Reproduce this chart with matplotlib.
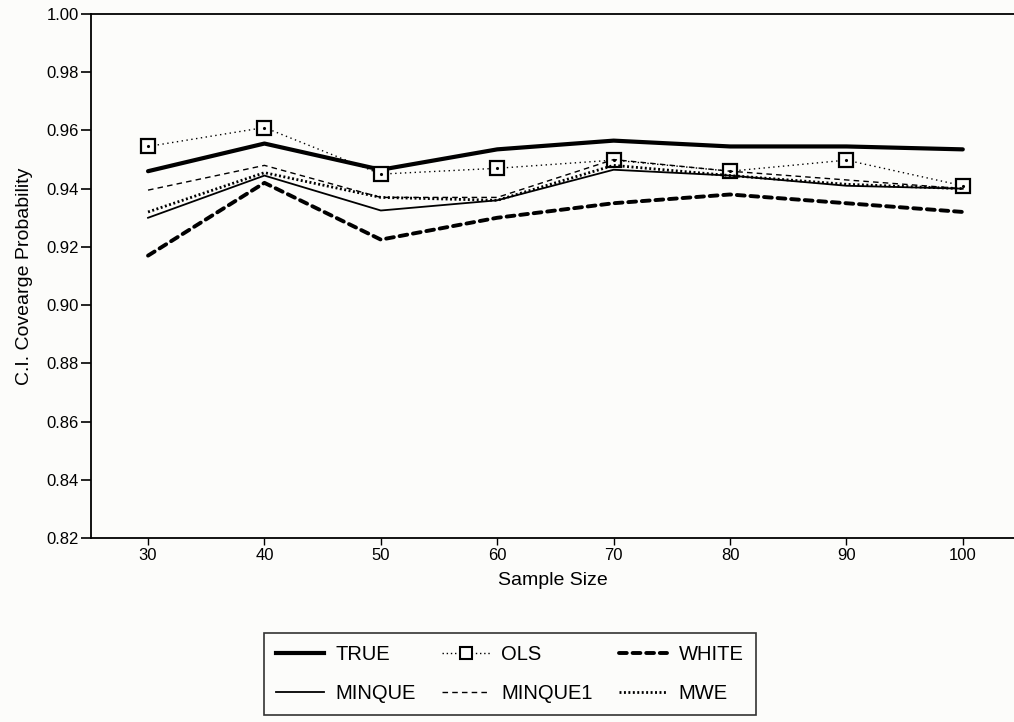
import matplotlib
matplotlib.use("Agg")
import matplotlib.pyplot as plt
from matplotlib.lines import Line2D

sample_size = [30, 40, 50, 60, 70, 80, 90, 100]
true_cov = [0.946, 0.9555, 0.9465, 0.9535, 0.9565, 0.9545, 0.9545, 0.9535]
ols_cov = [0.9545, 0.961, 0.945, 0.947, 0.9498, 0.946, 0.9498, 0.941]
white_cov = [0.917, 0.942, 0.9225, 0.930, 0.935, 0.938, 0.935, 0.932]
minque_cov = [0.930, 0.9445, 0.9325, 0.936, 0.9465, 0.9445, 0.941, 0.940]
minque1_cov = [0.9395, 0.948, 0.937, 0.937, 0.950, 0.946, 0.943, 0.940]
mwe_cov = [0.932, 0.9455, 0.937, 0.936, 0.948, 0.9445, 0.9415, 0.940]
y_ticks = [0.82, 0.84, 0.86, 0.88, 0.90, 0.92, 0.94, 0.96, 0.98, 1.00]

plt.rcParams['font.family'] = ['Liberation Sans', 'DejaVu Sans']
bg = '#fcfcfa'
fig = plt.figure(figsize=(10.14, 7.22), dpi=100, facecolor=bg)
ax = fig.add_axes([91/1014, 1-538/722, (1014-91)/1014, (538-14)/722], facecolor=bg)

k = 'black'
white_ls = (0, (2.0, 1.5))
mwe_ls = (0, (0.7, 0.9))
ax.plot(sample_size, true_cov, color=k, lw=3.0, solid_capstyle='round')
ax.plot(sample_size, ols_cov, color=k, lw=1.0, linestyle=(0, (1, 2.5)),
        marker='s', ms=10, mfc=bg, mec=k, mew=1.6)
ax.plot(sample_size, ols_cov, linestyle='none', marker='.', ms=2.5, color=k)
ax.plot(sample_size, white_cov, color=k, lw=2.8, linestyle=white_ls, dash_capstyle='round')
ax.plot(sample_size, minque_cov, color=k, lw=1.3)
ax.plot(sample_size, minque1_cov, color=k, lw=1.0, linestyle=(0, (4, 3)))
ax.plot(sample_size, mwe_cov, color=k, lw=2.0, linestyle=mwe_ls)

ax.set_xlim(25.1, 104.4)
ax.set_ylim(0.82, 1.00)
ax.set_xticks(sample_size)
ax.set_xticklabels([str(s) for s in sample_size])
ax.set_yticks(y_ticks)
ax.set_yticklabels([f"{t:.2f}" for t in y_ticks])
ax.tick_params(axis='y', direction='out', length=7.5, width=1.2, labelsize=12, pad=1.5)
ax.tick_params(axis='x', direction='out', length=5, width=1, labelsize=12, pad=2)
for s in ['left', 'bottom', 'top']:
    ax.spines[s].set_linewidth(1.3)
ax.spines['right'].set_visible(False)
ax.set_xlabel('Sample Size', fontsize=14, labelpad=7)
ax.set_ylabel('C.I. Covearge Probability', fontsize=14, labelpad=9)

# legend handles (column-wise order)
h_true = Line2D([], [], color=k, lw=3.0)
h_ols = Line2D([], [], color=k, lw=1.0, linestyle=(0, (1, 2)), marker='s', ms=9,
               mfc=bg, mec=k, mew=1.5)
h_white = Line2D([], [], color=k, lw=2.8, linestyle=white_ls, dash_capstyle='round')
h_minque = Line2D([], [], color=k, lw=1.3)
h_minque1 = Line2D([], [], color=k, lw=1.0, linestyle=(0, (4, 3)))
h_mwe = Line2D([], [], color=k, lw=2.0, linestyle=mwe_ls)
handles = [h_true, h_minque, h_ols, h_minque1, h_white, h_mwe]
labels = ['TRUE', 'MINQUE', 'OLS', 'MINQUE1', 'WHITE', 'MWE']
leg = fig.legend(handles, labels, ncol=3, loc='upper left',
                 bbox_to_anchor=(264/1014, 1-633/722), fontsize=14.5,
                 frameon=True, fancybox=False, edgecolor=k, facecolor=bg,
                 handlelength=2.4, handletextpad=0.55, columnspacing=1.3,
                 labelspacing=1.0, borderpad=0.6, borderaxespad=0)
leg.get_frame().set_linewidth(1.2)

fig.savefig('out.png', dpi=100, facecolor=bg)
